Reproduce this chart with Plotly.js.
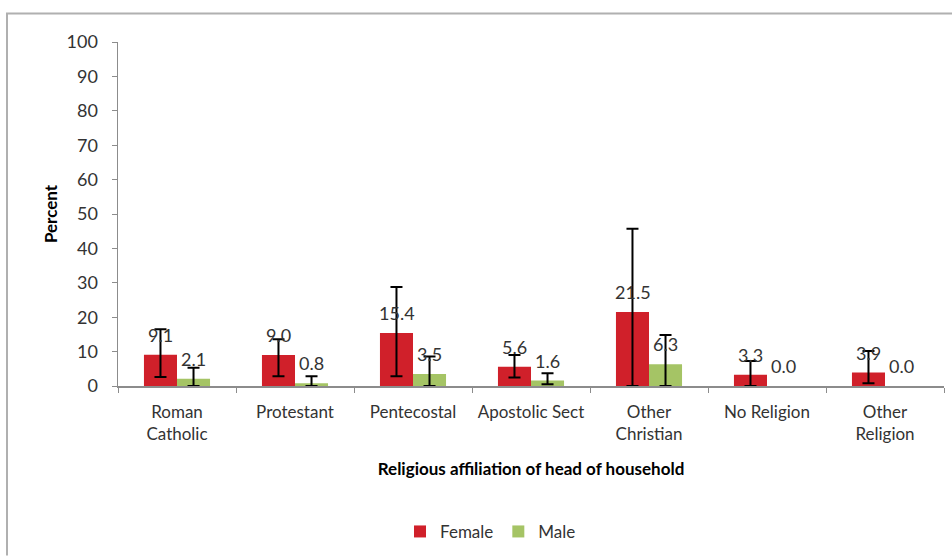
<!DOCTYPE html>
<html>
<head>
<meta charset="utf-8">
<script src="https://cdn.plot.ly/plotly-3.0.1.min.js"></script>
<style>html,body{margin:0;padding:0;background:#fff;}#chart{width:952px;height:557px;}</style>
</head>
<body>
<div id="chart"></div>
<script>
// ---- data ----
const categories = ["Roman<br>Catholic", "Protestant", "Pentecostal", "Apostolic Sect", "Other<br>Christian", "No Religion", "Other<br>Religion"];
const femaleValues = [9.1, 9.0, 15.4, 5.6, 21.5, 3.3, 3.9];
const maleValues   = [2.1, 0.8, 3.5, 1.6, 6.3, 0.0, 0.0];
const femaleUpper  = [16.5, 13.6, 28.8, 9.0, 45.7, 7.3, 10.2];
const femaleLower  = [2.6, 2.8, 2.8, 2.5, 0.0, 0.0, 0.8];
const maleUpper    = [5.3, 2.8, 8.6, 3.7, 14.8, null, null];
const maleLower    = [0.0, 0.0, 0.0, 0.5, 0.0, null, null];
const yTickVals = [0, 10, 20, 30, 40, 50, 60, 70, 80, 90, 100];

const FONT = "Lato, 'Open Sans', sans-serif";
const TXT = "#333333";

const plus = (up, v) => up.map((u, i) => u === null ? NaN : Math.max(0, u - v[i]));
const minus = (lo, v) => lo.map((l, i) => l === null ? NaN : Math.max(0, v[i] - l));

const female = {
  type: "bar", name: "Female", x: categories, y: femaleValues,
  marker: {color: "#D0202A"},
  error_y: {type: "data", symmetric: false, array: plus(femaleUpper, femaleValues), arrayminus: minus(femaleLower, femaleValues), color: "#000", thickness: 2, width: 6}
};
const male = {
  type: "bar", name: "Male", x: categories, y: maleValues,
  marker: {color: "#A5C465"},
  error_y: {type: "data", symmetric: false, array: plus(maleUpper, maleValues), arrayminus: minus(maleLower, maleValues), color: "#000", thickness: 2, width: 6}
};

const annotations = [];
categories.forEach((c, i) => {
  annotations.push({x: c, y: femaleValues[i], xref: "x", yref: "y", text: femaleValues[i].toFixed(1), showarrow: false, xshift: -16.5, yshift: 20, font: {family: FONT, size: 18, color: TXT}});
  annotations.push({x: c, y: maleValues[i], xref: "x", yref: "y", text: maleValues[i].toFixed(1), showarrow: false, xshift: 16.5, yshift: 20, font: {family: FONT, size: 18, color: TXT}});
});

// frame lines (pixel positions converted to paper coordinates)
const L = 118, R = 8, T = 42, B = 170, W = 952, H = 557;
const pw = W - L - R, ph = H - T - B;
const px = x => (x - L) / pw;
const py = y => (H - B - y) / ph;
const shapes = [
  {type: "line", xref: "paper", yref: "paper", x0: px(6), x1: px(952), y0: py(13.5), y1: py(13.5), line: {color: "#b0b0b0", width: 2}},
  {type: "line", xref: "paper", yref: "paper", x0: px(7), x1: px(7), y0: py(13.5), y1: py(557), line: {color: "#b0b0b0", width: 2}}
];

const layout = {
  width: W, height: H,
  margin: {l: L, r: R, t: T, b: B},
  paper_bgcolor: "#fff", plot_bgcolor: "#fff",
  font: {family: FONT, size: 16, color: TXT},
  barmode: "group", bargap: 0.44, bargroupgap: 0,
  showlegend: true,
  legend: {orientation: "h", x: 0.451, xanchor: "center", y: -0.42, yanchor: "middle", font: {family: FONT, size: 17, color: TXT}, traceorder: "normal"},
  xaxis: {
    tickfont: {family: FONT, size: 17, color: TXT},
    showline: true, linecolor: "#8c8c8c", linewidth: 1.5,
    ticks: "outside", tickson: "boundaries", ticklen: 5, tickcolor: "#8c8c8c",
    ticklabelstandoff: 10,
    showgrid: false, zeroline: false,
    title: {text: "<b>Religious affiliation of head of household</b>", font: {family: FONT, size: 17, color: "#000"}, standoff: 20}
  },
  yaxis: {
    range: [0, 100], tickvals: yTickVals,
    tickfont: {family: FONT, size: 18, color: TXT},
    showline: true, linecolor: "#8c8c8c", linewidth: 1.5,
    ticks: "outside", ticklen: 5, tickcolor: "#8c8c8c",
    ticklabelstandoff: 10,
    showgrid: false, zeroline: false,
    title: {text: "<b>Percent</b>", font: {family: FONT, size: 17, color: "#000"}, standoff: 4}
  },
  annotations: annotations,
  shapes: shapes
};

Plotly.newPlot("chart", [female, male], layout, {displayModeBar: false, staticPlot: true});
</script>
</body>
</html>
